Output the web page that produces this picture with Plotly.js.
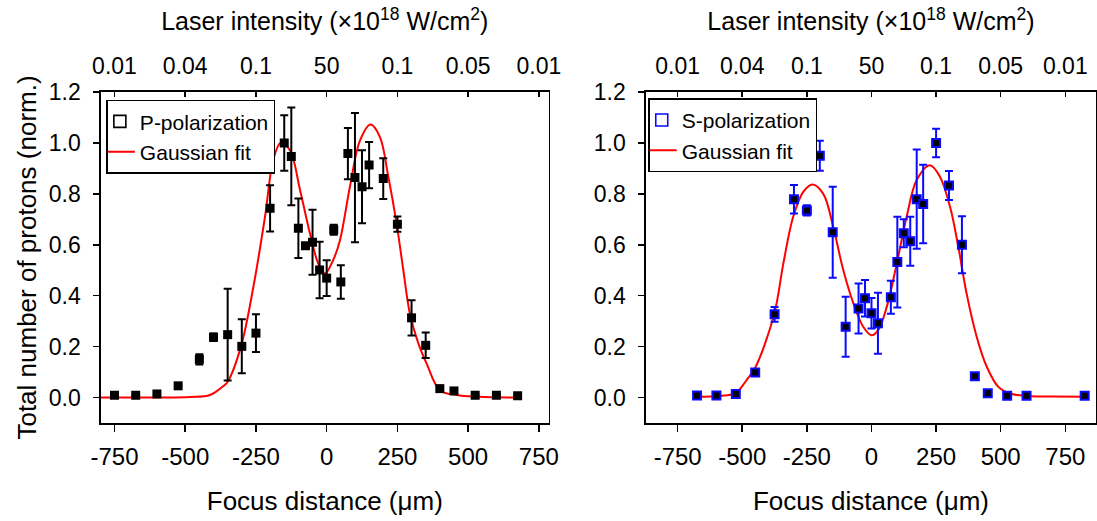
<!DOCTYPE html>
<html>
<head>
<meta charset="utf-8">
<script src="https://cdn.plot.ly/plotly-3.0.1.min.js"></script>
<style>html,body{margin:0;padding:0;background:#fff;}#chart{width:1097px;height:521px;}</style>
</head>
<body>
<div id="chart"></div>
<script>
// ---- P-polarization data ----
const pX = [-750, -675, -600, -525, -450, -400, -350, -300, -250, -200, -150, -125, -100, -75, -50, -25, 0, 25, 50, 75, 100, 125, 150, 200, 250, 300, 350, 400, 450, 525, 600, 675];
const pY = [0.009, 0.009, 0.014, 0.046, 0.15, 0.237, 0.247, 0.201, 0.253, 0.743, 1.0, 0.947, 0.665, 0.596, 0.61, 0.501, 0.469, 0.659, 0.454, 0.958, 0.864, 0.828, 0.913, 0.86, 0.681, 0.313, 0.205, 0.035, 0.026, 0.009, 0.009, 0.007];
const pErr = [0, 0, 0, 0, 0.02, 0.015, 0.18, 0.106, 0.074, 0.091, 0.109, 0.192, 0.117, 0.01, 0.128, 0.111, 0.07, 0.02, 0.066, 0.101, 0.254, 0.143, 0.091, 0.08, 0.03, 0.069, 0.05, 0, 0, 0, 0, 0];
// Gaussian fit curve (P)
const fitPX = [-798, -600, -483, -412, -365, -350, -303, -259, -218, -189, -163, -130, -94, -59, -30, -6, 23, 47, 82, 118, 155, 188, 218, 247, 271, 294, 324, 353, 400, 459, 538, 680];
const fitPY = [0.0, 0.0, 0.002, 0.01, 0.045, 0.062, 0.2, 0.435, 0.71, 0.932, 1.0, 0.971, 0.814, 0.644, 0.527, 0.487, 0.54, 0.618, 0.827, 1.01, 1.072, 1.024, 0.867, 0.684, 0.5, 0.33, 0.213, 0.134, 0.029, 0.01, 0.003, 0.0];

// ---- S-polarization data ----
const sX = [-675, -600, -525, -450, -375, -300, -250, -200, -150, -100, -50, -25, 0, 25, 75, 100, 125, 150, 175, 200, 250, 300, 350, 400, 450, 525, 600, 825];
const sY = [0.008, 0.008, 0.014, 0.098, 0.327, 0.779, 0.735, 0.95, 0.649, 0.278, 0.35, 0.39, 0.331, 0.292, 0.394, 0.532, 0.645, 0.614, 0.779, 0.76, 1.0, 0.833, 0.6, 0.084, 0.017, 0.007, 0.007, 0.007];
const sErr = [0, 0, 0, 0, 0.029, 0.056, 0.02, 0.059, 0.179, 0.118, 0.098, 0.072, 0.06, 0.12, 0.065, 0.178, 0.055, 0.096, 0.195, 0.154, 0.056, 0.057, 0.112, 0, 0, 0, 0, 0];
// Gaussian fit curve (S)
const fitSX = [-683, -620, -570, -525, -500, -483, -451, -377, -341, -303, -264, -228, -187, -148, -109, -70, -32, 0, 26, 59, 98, 136, 175, 226, 265, 304, 336, 368, 407, 446, 491, 536, 600, 700, 823];
const fitSY = [0.003, 0.004, 0.008, 0.016, 0.045, 0.069, 0.115, 0.325, 0.527, 0.71, 0.808, 0.837, 0.801, 0.67, 0.5, 0.37, 0.278, 0.245, 0.265, 0.356, 0.527, 0.71, 0.854, 0.912, 0.867, 0.749, 0.592, 0.409, 0.239, 0.121, 0.042, 0.016, 0.006, 0.004, 0.003];

// ---- axis ticks ----
const xTickVals = [-750, -500, -250, 0, 250, 500, 750];
const xTickText = ['-750', '-500', '-250', '0', '250', '500', '750'];
const topTickText = ['0.01', '0.04', '0.1', '50', '0.1', '0.05', '0.01'];
const yTickVals = [0, 0.2, 0.4, 0.6, 0.8, 1.0, 1.2];
const yTickText = ['0.0', '0.2', '0.4', '0.6', '0.8', '1.0', '1.2'];

const FONT = 'Liberation Sans, Arial, sans-serif';
const RED = '#ff0000';
const BLUE = '#0a0aff';
const LW = 1.6;
const rangeP = [-797.7, 784.3];
const rangeS = [-872.7, 868.8];

const traces = [
  {x: fitPX, y: fitPY, xaxis: 'x', yaxis: 'y', mode: 'lines', line: {color: RED, width: 2, shape: 'spline'},
   name: 'Gaussian fit', legend: 'legend', legendrank: 2, legendgroup: 'pf', hoverinfo: 'skip'},
  {x: pX, y: pY, xaxis: 'x', yaxis: 'y', mode: 'markers', showlegend: false,
   marker: {symbol: 'square', size: 9, color: '#000'},
   error_y: {type: 'data', array: pErr, visible: true, color: '#000', thickness: 2, width: 4}},
  {x: [null], y: [null], xaxis: 'x3', yaxis: 'y', mode: 'markers', name: 'P-polarization', legend: 'legend', legendrank: 1, legendgroup: 'pd',
   marker: {symbol: 'square-open', size: 12, color: '#000', line: {width: 1.6, color: '#000'}}},

  {x: fitSX, y: fitSY, xaxis: 'x2', yaxis: 'y2', mode: 'lines', line: {color: RED, width: 2, shape: 'spline'},
   name: 'Gaussian fit', legend: 'legend2', legendrank: 2, legendgroup: 'sf', hoverinfo: 'skip'},
  {x: sX, y: sY, xaxis: 'x2', yaxis: 'y2', mode: 'markers', showlegend: false,
   marker: {symbol: 'square', size: 8, color: '#000', line: {color: BLUE, width: 2}},
   error_y: {type: 'data', array: sErr, visible: true, color: BLUE, thickness: 2, width: 4}},
  {x: [null], y: [null], xaxis: 'x4', yaxis: 'y2', mode: 'markers', name: 'S-polarization', legend: 'legend2', legendrank: 1, legendgroup: 'sd',
   marker: {symbol: 'square-open', size: 12, color: BLUE, line: {width: 1.6, color: BLUE}}}
];

function bottomAxis(domain, range, anchor) {
  return {
    domain: domain, range: range, anchor: anchor,
    tickmode: 'array', tickvals: xTickVals, ticktext: xTickText,
    ticks: 'outside', ticklen: 7, tickwidth: LW, tickcolor: '#000',
    showline: true, linecolor: '#000', linewidth: LW, mirror: false,
    showgrid: false, zeroline: false, automargin: false,
    tickfont: {family: FONT, size: 24, color: '#000'}, ticklabelstandoff: 5,
    title: {text: 'Focus distance (μm)', font: {family: FONT, size: 26, color: '#000'}, standoff: 22}
  };
}
function topAxis(over, domain, range, anchor) {
  return {
    overlaying: over, side: 'top', anchor: anchor, domain: domain, range: range,
    tickmode: 'array', tickvals: xTickVals, ticktext: topTickText,
    ticks: 'inside', ticklen: 5, tickwidth: LW, tickcolor: '#000',
    showline: true, linecolor: '#000', linewidth: LW,
    showgrid: false, zeroline: false, automargin: false,
    tickfont: {family: FONT, size: 23, color: '#000'}, ticklabelstandoff: 7,
    title: {text: 'Laser intensity (×10<sup>18</sup> W/cm<sup>2</sup>)', font: {family: FONT, size: 25, color: '#000'}, standoff: 15}
  };
}
function leftAxis(anchor, title) {
  const ax = {
    anchor: anchor, domain: [0, 1], range: [-0.1, 1.2],
    tickmode: 'array', tickvals: yTickVals, ticktext: yTickText,
    ticks: 'outside', ticklen: 6, tickwidth: LW, tickcolor: '#000',
    showline: true, linecolor: '#000', linewidth: LW, mirror: true,
    showgrid: false, zeroline: false, automargin: false,
    tickfont: {family: FONT, size: 23, color: '#000'}, ticklabelstandoff: 8
  };
  if (title) ax.title = {text: title, font: {family: FONT, size: 26, color: '#000'}, standoff: 5};
  return ax;
}

const legendStyle = (x, y) => ({
  x: x, y: y, xanchor: 'left', yanchor: 'top', xref: 'paper', yref: 'paper',
  bgcolor: '#fff', bordercolor: '#000', borderwidth: 1.6,
  font: {family: FONT, size: 21, color: '#000'},
  traceorder: 'grouped', tracegroupgap: 0, indentation: -8
});

const layout = {
  width: 1097, height: 521,
  margin: {l: 101, r: 1, t: 92, b: 98, pad: 0},
  paper_bgcolor: '#fff', plot_bgcolor: '#fff',
  font: {family: FONT, color: '#000'},
  showlegend: true,
  xaxis: bottomAxis([0, 0.4498], rangeP, 'y'),
  xaxis2: bottomAxis([0.5477, 1], rangeS, 'y2'),
  xaxis3: topAxis('x', [0, 0.4498], rangeP, 'y'),
  xaxis4: topAxis('x2', [0.5477, 1], rangeS, 'y2'),
  yaxis: leftAxis('x', 'Total number of protons (norm.)'),
  yaxis2: leftAxis('x2', null),
  legend: legendStyle(0.0053, 0.977),
  legend2: legendStyle(0.5499, 0.981)
};

Plotly.newPlot('chart', traces, layout, {staticPlot: true, displayModeBar: false});
</script>
</body>
</html>
